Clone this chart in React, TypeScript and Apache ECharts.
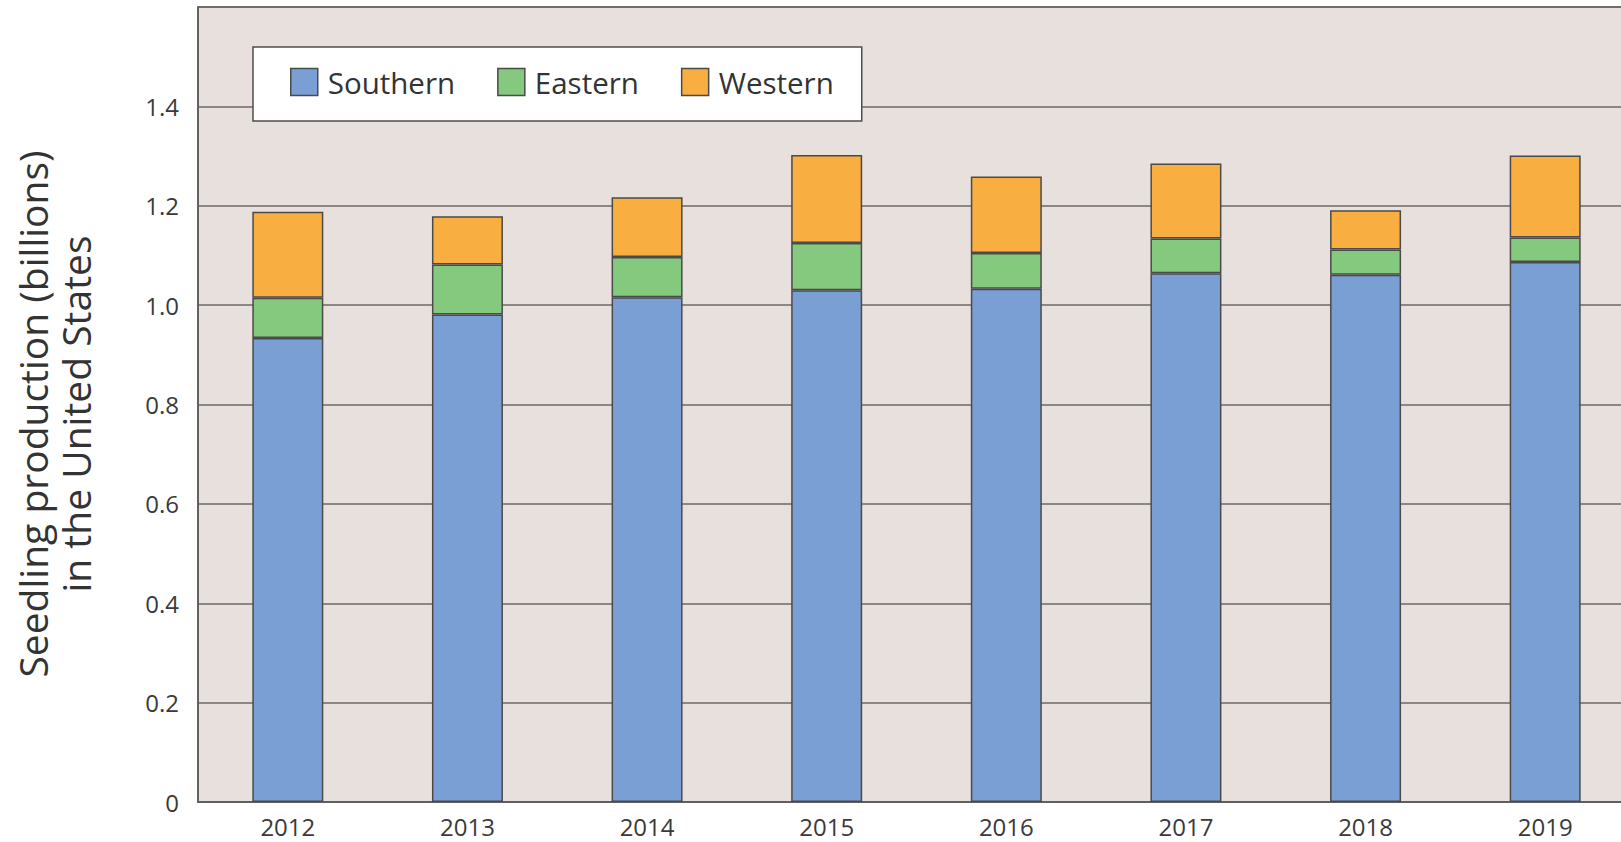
import React, { useEffect, useRef } from "react";
import * as echarts from "echarts";

const years = ["2012", "2013", "2014", "2015", "2016", "2017", "2018", "2019"];
const southern = [0.934, 0.981, 1.016, 1.03, 1.033, 1.064, 1.061, 1.087];
const eastern = [0.081, 0.101, 0.081, 0.095, 0.072, 0.07, 0.051, 0.049];
const western = [0.173, 0.097, 0.12, 0.177, 0.154, 0.151, 0.079, 0.165];
const seriesNames = ["Southern", "Eastern", "Western"];
const yAxisTitle = "Seedling production (billions)\nin the United States";

const FONT = "'Open Sans', 'Liberation Sans', Arial, sans-serif";
const colors = ["#7a9fd4", "#85c97f", "#f8ae40"];
const edge = "#4a4a4a";

export default function App() {
  const ref = useRef<HTMLDivElement>(null);
  useEffect(() => {
    if (!ref.current) return;
    const chart = echarts.init(ref.current, undefined, { renderer: "svg" });
    const values = [southern, eastern, western];
    chart.setOption({
      animation: false,
      backgroundColor: "#ffffff",
      grid: {
        left: 198,
        top: 7,
        width: 1437,
        height: 795,
        show: true,
        backgroundColor: "#e7e0dd",
        borderColor: "#5a5a5a",
        borderWidth: 1.5,
        containLabel: false,
      },
      legend: {
        left: 253,
        top: 47,
        orient: "horizontal",
        icon: "rect",
        itemWidth: 27,
        itemHeight: 27,
        itemGap: 42,
        padding: [20, 28, 24, 37],
        backgroundColor: "#ffffff",
        borderColor: "#4d4d4d",
        borderWidth: 1.5,
        borderRadius: 0,
        itemStyle: { borderColor: edge, borderWidth: 1.5 },
        textStyle: {
          fontFamily: FONT,
          fontSize: 29.5,
          color: "#333333",
          padding: [0, 0, 0, 5],
        },
        data: seriesNames,
      },
      xAxis: {
        type: "category",
        data: years,
        axisLine: { show: true, lineStyle: { color: "#5a5a5a", width: 1.5 } },
        axisTick: { show: false },
        axisLabel: {
          fontFamily: FONT,
          fontSize: 24,
          color: "#3a3a3a",
          margin: 12,
        },
      },
      yAxis: {
        type: "value",
        min: 0,
        max: 1.6,
        interval: 0.2,
        axisLine: { show: true, lineStyle: { color: "#5a5a5a", width: 1.5 } },
        axisTick: { show: false },
        splitLine: { show: true, lineStyle: { color: "#6a6a6a", width: 1.5 } },
        axisLabel: {
          fontFamily: FONT,
          fontSize: 24,
          color: "#3a3a3a",
          margin: 19,
          showMaxLabel: false,
          formatter: (v: number) => (v === 0 ? "0" : v.toFixed(1)),
        },
      },
      graphic: [
        {
          type: "text",
          x: 54,
          y: 414,
          rotation: Math.PI / 2,
          style: {
            text: yAxisTitle,
            align: "center",
            verticalAlign: "middle",
            fontFamily: FONT,
            fontSize: 39,
            lineHeight: 43,
            fill: "#333333",
          },
        },
      ],
      series: seriesNames.map((name, i) => ({
        name,
        type: "bar",
        stack: "total",
        barWidth: 71,
        data: values[i],
        itemStyle: {
          color: colors[i],
          borderColor: edge,
          borderWidth: 1.5,
        },
      })),
    });
    return () => chart.dispose();
  }, []);
  return (
    <div
      style={{
        position: "absolute",
        left: 0,
        top: 0,
        width: 1621,
        height: 842,
        overflow: "hidden",
        background: "#ffffff",
      }}
    >
      <div ref={ref} style={{ width: 1650, height: 842 }} />
    </div>
  );
}
